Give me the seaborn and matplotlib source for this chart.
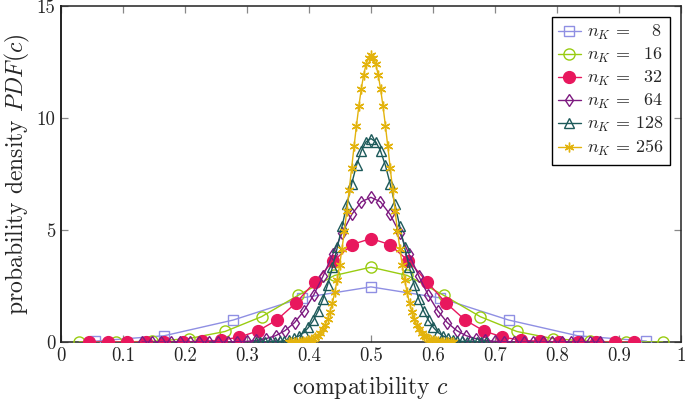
import numpy as np
import matplotlib
matplotlib.use("Agg")
import matplotlib.pyplot as plt
import seaborn as sns

sns.set_style("ticks")
plt.rcParams['font.family'] = 'serif'
plt.rcParams['font.serif'] = ['cmr10']
plt.rcParams['mathtext.fontset'] = 'cm'
plt.rcParams['axes.formatter.use_mathtext'] = True

# number of keys per series; histogram uses n_K + 1 bins on [0, 1]
n_k = [8, 16, 32, 64, 128, 256]
# index of the first plotted bin in each series
first_bin = [0, 0, 1, 8, 40, 94]

pdf_8 = [0.04, 0.28, 0.98, 1.97, 2.46, 1.97, 0.98, 0.28, 0.04]
pdf_16 = [0.00, 0.00, 0.03, 0.15, 0.47, 1.13, 2.08, 2.97, 3.34,
          2.97, 2.08, 1.13, 0.47, 0.15, 0.03, 0.00, 0.00]
pdf_32 = [0.00, 0.00, 0.00, 0.00, 0.00, 0.01, 0.03, 0.08, 0.22, 0.50,
          0.99, 1.74, 2.67, 3.62, 4.35, 4.62, 4.35, 3.62, 2.67, 1.74,
          0.99, 0.50, 0.22, 0.08, 0.03, 0.01, 0.00, 0.00, 0.00, 0.00]
pdf_64 = [0.00, 0.00, 0.00, 0.00,
          0.00, 0.00, 0.00, 0.00, 0.00, 0.00, 0.01, 0.03, 0.07, 0.15,
          0.28, 0.51, 0.87, 1.40, 2.10, 2.96, 3.92, 4.88, 5.70, 6.26,
          6.46,
          6.26, 5.70, 4.88, 3.92, 2.96, 2.10, 1.40, 0.87, 0.51, 0.28,
          0.15, 0.07, 0.03, 0.01, 0.00, 0.00, 0.00, 0.00, 0.00, 0.00,
          0.00, 0.00, 0.00, 0.00]
pdf_128 = [0.00, 0.00, 0.00, 0.01, 0.02, 0.03, 0.06, 0.10, 0.17, 0.27,
           0.42, 0.65, 0.96, 1.37, 1.90, 2.56, 3.34, 4.22, 5.17, 6.14,
           7.07, 7.89, 8.53, 8.94,
           9.08,
           8.94, 8.53, 7.89, 7.07, 6.14, 5.17, 4.22, 3.34, 2.56, 1.90,
           1.37, 0.96, 0.65, 0.42, 0.27, 0.17, 0.10, 0.06, 0.03, 0.02,
           0.01, 0.00, 0.00, 0.00]
pdf_256 = [0.00, 0.00, 0.00, 0.01, 0.01, 0.02, 0.03, 0.04, 0.07, 0.10,
           0.14, 0.21, 0.29, 0.41, 0.56, 0.76, 1.02, 1.34, 1.73, 2.21,
           2.77, 3.42, 4.16, 4.97, 5.86, 6.80, 7.76, 8.73, 9.66, 10.53,
           11.30, 11.93, 12.41, 12.70,
           12.80,
           12.70, 12.41, 11.93, 11.30, 10.53, 9.66, 8.73, 7.76, 6.80, 5.86,
           4.97, 4.16, 3.42, 2.77, 2.21, 1.73, 1.34, 1.02, 0.76, 0.56,
           0.41, 0.29, 0.21, 0.14, 0.10, 0.07, 0.04, 0.03, 0.02, 0.01,
           0.01, 0.00, 0.00, 0.00]
pdfs = [pdf_8, pdf_16, pdf_32, pdf_64, pdf_128, pdf_256]

labels = [r'$n_K \,=\,\quad 8$', r'$n_K \,=\,\enspace 16$',
          r'$n_K \,=\,\enspace 32$', r'$n_K \,=\,\enspace 64$',
          r'$n_K \,=\, 128$', r'$n_K \,=\, 256$']
colors = ['#8f8fe3', '#99cc11', '#e8175d', '#7d1a80', '#1d5a5a', '#e3b30d']
markers = ['s', 'o', 'o', 'd', '^', (6, 2, 0)]
msizes = [7.5, 8, 8.5, 6, 6.5, 7]
filled = [False, False, True, False, False, False]

xticks = [0, 0.1, 0.2, 0.3, 0.4, 0.5, 0.6, 0.7, 0.8, 0.9, 1]
xticklabels = ['0', '0.1', '0.2', '0.3', '0.4', '0.5', '0.6', '0.7', '0.8', '0.9', '1']
yticks = [0, 5, 10, 15]

fig = plt.figure(figsize=(6.85, 4.0), dpi=100)
ax = fig.add_axes([0.089, 0.145, 0.905, 0.84])

for i, n in enumerate(n_k):
    vals = np.array(pdfs[i])
    bins = np.arange(first_bin[i], first_bin[i] + len(vals))
    x = (bins + 0.5) / (n + 1)
    sns.lineplot(
        x=x, y=vals, ax=ax,
        color=colors[i], linewidth=1.0,
        marker=markers[i], markersize=msizes[i],
        markerfacecolor=colors[i] if filled[i] else 'none',
        markeredgecolor=colors[i], markeredgewidth=1.0,
        label=labels[i], zorder=3 + i
    )

ax.set_xlim(0, 1)
ax.set_ylim(0, 15)
ax.set_xticks(xticks)
ax.set_xticklabels(xticklabels)
ax.set_yticks(yticks)
ax.set_yticklabels([str(t) for t in yticks])
ax.tick_params(direction='in', length=5, width=0.9, color='#888888',
               top=True, right=True, labelsize=13.5, pad=4)
for s in ax.spines.values():
    s.set_color('#222222')
    s.set_linewidth(1.1)
ax.spines['left'].set_linewidth(1.4)

ax.set_xlabel(r'compatibility $c$', fontsize=17, labelpad=6)
ax.set_ylabel(r'probability density $PDF(c)$', fontsize=17, labelpad=3)

leg = ax.legend(loc='upper right', fancybox=False, edgecolor='black',
                framealpha=1, fontsize=13, borderaxespad=0.6,
                handlelength=1.25, handletextpad=0.35, labelspacing=0.22,
                borderpad=0.35)
leg.get_frame().set_linewidth(1.0)

fig.savefig('out.png', dpi=100)
